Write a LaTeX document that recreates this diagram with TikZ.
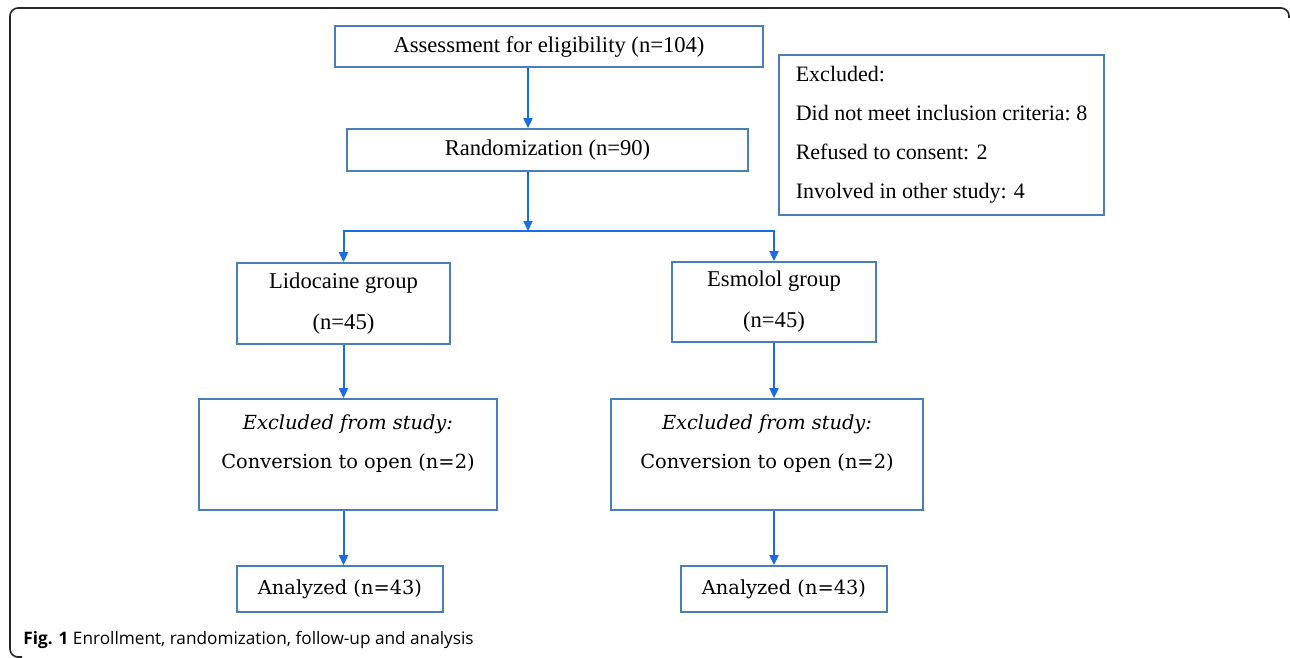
\documentclass[tikz,border=0pt]{standalone}
\usepackage{fontspec}
\setmainfont{Liberation Serif}
\newfontfamily\slabfont{DejaVu Serif}
\newfontfamily\capfont{Open Sans}
\usepackage{xcolor}
\usepackage{tikz}
\usetikzlibrary{positioning,arrows.meta,calc}

\definecolor{boxblue}{RGB}{74,126,187}
\definecolor{arrowblue}{RGB}{26,108,228}

\begin{document}
\begin{tikzpicture}[
  x=0.5pt, y=-0.5pt,
  box/.style   ={draw=boxblue, line width=0.9pt, inner sep=0pt, align=center,
                 font=\fontsize{11.3}{20.5}\selectfont},
  slabtxt/.style={font=\slabfont\fontsize{9.7}{19.5}\selectfont, align=center},
  arr/.style   ={-{Triangle[width=4.5pt,length=5pt]}, line width=1pt, arrowblue},
  frame/.style ={line width=0.8pt, black!85, rounded corners=4pt},
  capt/.style  ={font=\capfont\fontsize{8.6}{10}\selectfont, inner sep=0pt}
]
\useasboundingbox (0,0) rectangle (1290,658);

%% ---- Outer frame ---------------------------------------------------
\draw[frame] (1289,18) |- (10,8) |- (22,657);

%% ---- Enrolment -----------------------------------------------------
\node[box, minimum width=214pt, minimum height=20.5pt] (assess) at (549,46.5)
      {Assessment for eligibility (n=104)};
\node[box, minimum width=200.5pt, minimum height=21pt] (rand) at (547.5,150)
      {Randomization (n=90)};
\node[box, align=left, minimum width=162.5pt, minimum height=80pt,
      font=\fontsize{11}{19.5}\selectfont] (excl) at (941.5,135)
      {Excluded:\\Did not meet inclusion criteria:\ 8\\Refused to consent: 2\\Involved in other study: 4};

%% ---- Allocation ----------------------------------------------------
\node[box, minimum width=106.5pt, minimum height=40.5pt] (lido) at (343.5,303.5)
      {Lidocaine group\\(n=45)};
\node[box, minimum width=102pt, minimum height=40pt] (esmo) at (774,302)
      {Esmolol group\\(n=45)};

%% ---- Follow-up -----------------------------------------------------
\node[box, minimum width=149pt, minimum height=55.5pt,
      label={[slabtxt, anchor=north, yshift=-5pt]north:{\textit{Excluded from study:}\\Conversion to open (n=2)}}]
      (lidoX) at (348,454.5) {};
\node[box, minimum width=156pt, minimum height=55.5pt,
      label={[slabtxt, anchor=north, yshift=-5pt]north:{\textit{Excluded from study:}\\Conversion to open (n=2)}}]
      (esmoX) at (767,454.5) {};

%% ---- Analysis ------------------------------------------------------
\node[box, slabtxt, minimum width=103pt, minimum height=23pt] (lidoA) at (340,589)
      {Analyzed (n=43)};
\node[box, slabtxt, minimum width=103pt, minimum height=23pt] (esmoA) at (784,589)
      {Analyzed (n=43)};

%% ---- Connections ---------------------------------------------------
\coordinate (split) at (528,231);
\draw[arr] (assess.south -| split) -- (rand.north -| split);
\draw[arr] (rand.south -| split) -- (split);
\draw[arr] (split) -| (lido.north);
\draw[arr] (split) -| (esmo.north);
\draw[arr] (lido.south) -- (lido.south |- lidoX.north);
\draw[arr] (esmo.south) -- (esmo.south |- esmoX.north);
\draw[arr] (lidoX.south -| lido) -- (lido |- lidoA.north);
\draw[arr] (esmoX.south -| esmo) -- (esmo |- esmoA.north);

%% ---- Caption -------------------------------------------------------
\node[capt, anchor=base west] (cap) at (23,644)
      {\textbf{Fig. 1} Enrollment, randomization, follow-up and analysis};

\end{tikzpicture}
\end{document}
